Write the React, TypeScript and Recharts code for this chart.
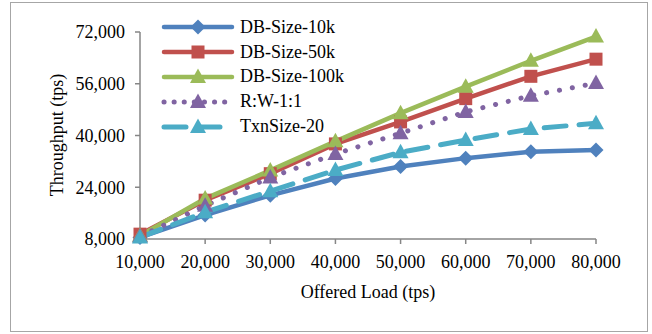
import React from "react";
import { LineChart, Line, XAxis, YAxis } from "recharts";

const loads = [10000, 20000, 30000, 40000, 50000, 60000, 70000, 80000];
const dbSize10k = [8500, 15400, 21500, 26700, 30400, 33000, 35000, 35500];
const dbSize50k = [9500, 20000, 28200, 37400, 44200, 51400, 58300, 63600];
const dbSize100k = [9000, 20500, 29200, 38200, 46900, 55100, 63100, 70600];
const rw11 = [8800, 18300, 27000, 34300, 40700, 47300, 52300, 56200];
const txnSize20 = [8500, 16300, 22800, 29300, 34800, 38600, 42000, 43800];
const yTicks = [8000, 24000, 40000, 56000, 72000];

const data = loads.map((load, i) => ({
  load,
  s10k: dbSize10k[i],
  s50k: dbSize50k[i],
  s100k: dbSize100k[i],
  rw: rw11[i],
  txn: txnSize20[i],
}));

type Shape = "diamond" | "square" | "triangle";

const series = [
  { key: "s10k", name: "DB-Size-10k", color: "#4F81BD", shape: "diamond" as Shape, dash: undefined, legendDash: undefined },
  { key: "s50k", name: "DB-Size-50k", color: "#C0504D", shape: "square" as Shape, dash: undefined, legendDash: undefined },
  { key: "s100k", name: "DB-Size-100k", color: "#9BBB59", shape: "triangle" as Shape, dash: undefined, legendDash: undefined },
  { key: "rw", name: "R:W-1:1", color: "#8064A2", shape: "triangle" as Shape, dash: "0.1 13", legendDash: "0.1 10" },
  { key: "txn", name: "TxnSize-20", color: "#4BACC6", shape: "triangle" as Shape, dash: "22 13", legendDash: "22 12" },
];

const font = "'Liberation Serif', 'Times New Roman', serif";

const markerShape = (shape: Shape, color: string, cx: number, cy: number, key?: string) => {
  if (shape === "diamond") {
    return (
      <polygon key={key} points={`${cx},${cy - 7.5} ${cx + 7.5},${cy} ${cx},${cy + 7.5} ${cx - 7.5},${cy}`} fill={color} />
    );
  }
  if (shape === "square") {
    return <rect key={key} x={cx - 6.5} y={cy - 6.5} width={13} height={13} fill={color} />;
  }
  return (
    <polygon key={key} points={`${cx},${cy - 8.5} ${cx + 8},${cy + 6} ${cx - 8},${cy + 6}`} fill={color} />
  );
};

const makeDot = (shape: Shape, color: string) => (props: any) => {
  const { cx, cy, index } = props;
  if (cx == null || cy == null) return <g key={`e-${index}`} />;
  return markerShape(shape, color, cx, cy, `${shape}-${color}-${index}`);
};

// legend drawn as an overlay so it doesn't eat into the plot area
const ChartLegend = () => (
  <div style={{ position: "absolute", left: 161, top: 15, fontFamily: font, fontSize: 18, color: "#000" }}>
    {series.map((s) => (
      <div key={s.key} style={{ display: "flex", alignItems: "center", height: 24.8 }}>
        <svg width={74} height={20} style={{ marginRight: 5 }}>
          <line
            x1={3}
            y1={10}
            x2={71}
            y2={10}
            stroke={s.color}
            strokeWidth={s.dash ? 5 : 4.5}
            strokeLinecap="round"
            strokeDasharray={s.legendDash}
          />
          {markerShape(s.shape, s.color, 37, 10)}
        </svg>
        <span>{s.name}</span>
      </div>
    ))}
  </div>
);

export default function App() {
  return (
    <div style={{ position: "absolute", left: 0, top: 0, width: 652, height: 334, background: "#fff" }}>
      <div
        style={{
          position: "absolute",
          left: 10,
          top: 2,
          width: 636,
          height: 328,
          border: "1.5px solid #a6a6a6",
        }}
      />
      <LineChart
        width={652}
        height={334}
        data={data}
        margin={{ top: 32, right: 56, bottom: 0, left: 0 }}
        style={{ fontFamily: font }}
      >
        <XAxis
          dataKey="load"
          type="number"
          domain={[10000, 80000]}
          ticks={loads}
          interval={0}
          tickFormatter={(v: number) => v.toLocaleString("en-US")}
          height={95}
          stroke="#868686"
          strokeWidth={1.5}
          tickSize={5}
          tickMargin={11}
          tick={{ fill: "#000", fontSize: 18 }}
          label={() => (
            <text x={368} y={292} textAnchor="middle" dominantBaseline="central" fontSize={18} fill="#000">
              Offered Load (tps)
            </text>
          )}
        />
        <YAxis
          type="number"
          domain={[8000, 72000]}
          ticks={yTicks}
          interval={0}
          tickFormatter={(v: number) => v.toLocaleString("en-US")}
          width={140}
          stroke="#868686"
          strokeWidth={1.5}
          tickSize={5}
          tickMargin={10}
          tick={{ fill: "#000", fontSize: 18 }}
          label={() => (
            <text
              x={57}
              y={135}
              transform="rotate(-90 57 135)"
              textAnchor="middle"
              dominantBaseline="central"
              fontSize={18}
              fill="#000"
            >
              Throughput (tps)
            </text>
          )}
        />
        {series.map((s) => (
          <Line
            key={s.key}
            dataKey={s.key}
            name={s.name}
            stroke={s.color}
            strokeWidth={s.dash ? 5 : 4.5}
            strokeDasharray={s.dash}
            strokeLinecap="round"
            dot={makeDot(s.shape, s.color)}
            activeDot={false}
            isAnimationActive={false}
          />
        ))}
      </LineChart>
      <ChartLegend />
    </div>
  );
}
